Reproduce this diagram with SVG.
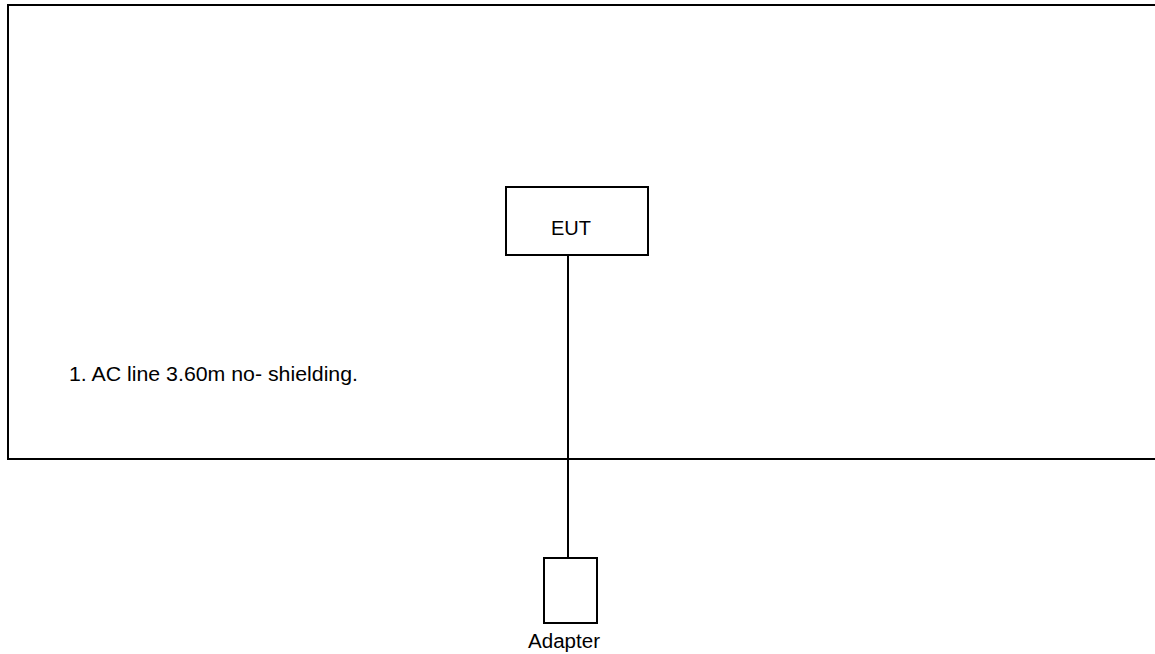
<svg xmlns="http://www.w3.org/2000/svg" width="1155" height="654" viewBox="0 0 1155 654">
<style>
.box{fill:#fff;stroke:#000;stroke-width:2}
.wire{stroke:#000;stroke-width:2;fill:none}
text{font-family:"Liberation Sans",Arial,sans-serif;font-size:20px;fill:#000}
</style>
<rect width="1155" height="654" fill="#fff"/>
<g id="room"><rect x="8" y="5" width="1160" height="454" fill="none" stroke="#000" stroke-width="2"/></g>
<g id="connectors"><line class="wire" x1="568" y1="255" x2="568" y2="558"/></g>
<g id="eut"><rect class="box" x="506" y="187" width="142" height="68"/><text x="571" y="235" text-anchor="middle">EUT</text></g>
<g id="adapter"><rect class="box" x="544" y="558" width="53" height="65"/><text x="564" y="648" text-anchor="middle" textLength="72" lengthAdjust="spacingAndGlyphs">Adapter</text></g>
<g id="note"><text x="69" y="381" textLength="289" lengthAdjust="spacingAndGlyphs">1. AC line 3.60m no- shielding.</text></g>
</svg>
